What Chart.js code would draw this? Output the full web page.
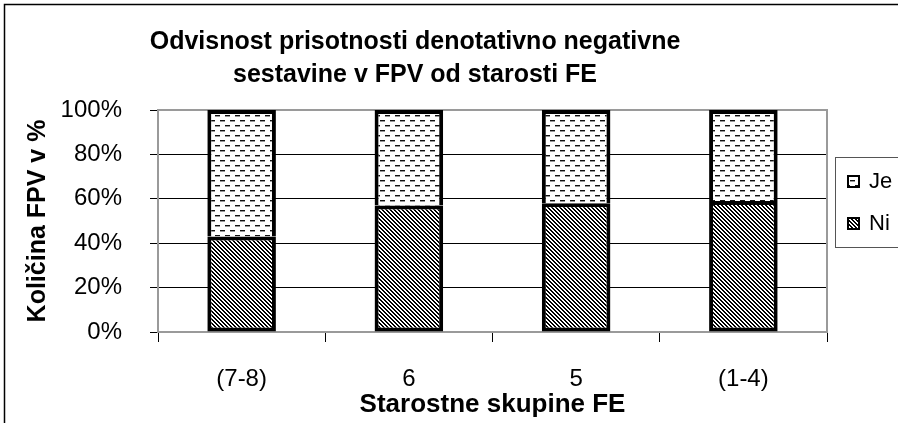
<!DOCTYPE html>
<html>
<head>
<meta charset="utf-8">
<script src="https://cdn.jsdelivr.net/npm/chart.js@4"></script>
<style>
  body { margin: 0; background: #fff; }
  #wrap { width: 898px; height: 423px; position: relative; }
</style>
</head>
<body>
<div id="wrap"><canvas id="barChart"></canvas></div>
<script>
const categories = ['(7-8)', '6', '5', '(1-4)'];
const niValues = [43, 57, 58, 59];
const jeValues = [57, 43, 42, 41];
const titleLines = ['Odvisnost prisotnosti denotativno negativne', 'sestavine v FPV od starosti FE'];

const FONT = "'Liberation Sans', Arial, sans-serif";

// diagonal hatch for "Ni"
function hatchPattern(ctx) {
    const c = document.createElement('canvas');
    c.width = 4; c.height = 4;
    const g = c.getContext('2d');
    g.fillStyle = '#fff';
    g.fillRect(0, 0, 4, 4);
    g.fillStyle = '#000';
    for (let y = 0; y < 4; y++) {
        for (let x = 0; x < 4; x++) {
            const d = ((x - y) % 4 + 4) % 4;
            if (d === 0 || d === 1) g.fillRect(x, y, 1, 1);
        }
    }
    return ctx.createPattern(c, 'repeat');
}

// small dashes for "Je"
function dashPattern(ctx) {
    const c = document.createElement('canvas');
    c.width = 10; c.height = 10;
    const g = c.getContext('2d');
    g.fillStyle = '#fff';
    g.fillRect(0, 0, 10, 10);
    g.fillStyle = '#111';
    g.fillRect(0, 0, 5, 1);
    g.fillRect(5, 5, 5, 1);
    g.fillStyle = '#999';
    g.fillRect(0, 1, 5, 1);
    g.fillRect(5, 6, 5, 1);
    return ctx.createPattern(c, 'repeat');
}

const ctx = document.getElementById('barChart').getContext('2d');
const niFill = hatchPattern(ctx);
const jeFill = dashPattern(ctx);

const framePlugin = {
    id: 'frame',
    beforeDraw(chart) {
        const c = chart.ctx;
        c.save();
        c.fillStyle = '#fff';
        c.fillRect(0, 0, chart.width, chart.height);
        c.strokeStyle = '#000';
        c.lineWidth = 1.5;
        c.beginPath();
        c.moveTo(4.5, chart.height);
        c.lineTo(4.5, 4.5);
        c.lineTo(chart.width, 4.5);
        c.stroke();
        // title
        c.fillStyle = '#000';
        c.font = 'bold 25px ' + FONT;
        c.textAlign = 'center';
        c.textBaseline = 'middle';
        c.fillText(titleLines[0], 415, 42);
        c.fillText(titleLines[1], 415, 75);
        c.restore();
    },
    beforeDatasetsDraw(chart) {
        const a = chart.chartArea;
        const c = chart.ctx;
        c.save();
        c.strokeStyle = '#9a9a9a';
        c.lineWidth = 2;
        c.strokeRect(a.left, a.top, a.right - a.left, a.bottom - a.top);
        c.restore();
    },
    afterDraw(chart) {
        // legend box on the right, partly outside the picture
        const c = chart.ctx;
        c.save();
        c.strokeStyle = '#555';
        c.lineWidth = 1;
        c.strokeRect(835.5, 157.5, 100, 90);
        c.font = '22px ' + FONT;
        c.textBaseline = 'middle';
        c.textAlign = 'left';
        const items = chart.data.datasets.slice().reverse();
        items.forEach((ds, i) => {
            const y = 181 + i * 42;
            c.fillStyle = ds.backgroundColor;
            c.fillRect(847, y - 6, 13, 13);
            c.strokeStyle = '#000';
            c.lineWidth = 2;
            c.strokeRect(848, y - 5, 11, 11);
            c.fillStyle = '#000';
            c.fillText(ds.label, 869, y + 1);
        });
        c.restore();
    }
};

new Chart(ctx, {
    type: 'bar',
    data: {
        labels: categories,
        datasets: [
            {
                label: 'Ni',
                data: niValues,
                backgroundColor: niFill,
                borderColor: '#000',
                borderWidth: 4,
                borderSkipped: false,
                categoryPercentage: 1,
                barPercentage: 0.41
            },
            {
                label: 'Je',
                data: jeValues,
                backgroundColor: jeFill,
                borderColor: '#000',
                borderWidth: 4,
                borderSkipped: 'start',
                categoryPercentage: 1,
                barPercentage: 0.41
            }
        ]
    },
    options: {
        responsive: true,
        maintainAspectRatio: false,
        animation: false,
        layout: { padding: { top: 110, right: 71, left: 0, bottom: 0 } },
        plugins: {
            legend: { display: false },
            title: { display: false },
            tooltip: { enabled: false }
        },
        scales: {
            x: {
                stacked: true,
                afterFit: (scale) => { scale.height = 91; },
                grid: {
                    offset: true,
                    drawOnChartArea: false,
                    color: '#000',
                    tickLength: 10
                },
                border: { color: '#9a9a9a', width: 2 },
                ticks: {
                    color: '#000',
                    padding: 23,
                    font: { family: FONT, size: 24 }
                },
                title: {
                    display: true,
                    text: 'Starostne skupine FE',
                    color: '#000',
                    padding: { top: 0, bottom: 3 },
                    font: { family: FONT, size: 26, weight: 'bold' }
                }
            },
            y: {
                stacked: true,
                min: 0,
                max: 100,
                afterFit: (scale) => { scale.width = 158; },
                grid: {
                    color: '#000',
                    lineWidth: 1,
                    tickLength: 8
                },
                border: { color: '#9a9a9a', width: 2 },
                ticks: {
                    stepSize: 20,
                    color: '#000',
                    padding: 28,
                    font: { family: FONT, size: 24 },
                    callback: (v) => v + '%'
                },
                title: {
                    display: true,
                    text: 'Količina FPV v %',
                    color: '#000',
                    padding: { top: 23, bottom: 0 },
                    font: { family: FONT, size: 25, weight: 'bold' }
                }
            }
        }
    },
    plugins: [framePlugin]
});
</script>
</body>
</html>
